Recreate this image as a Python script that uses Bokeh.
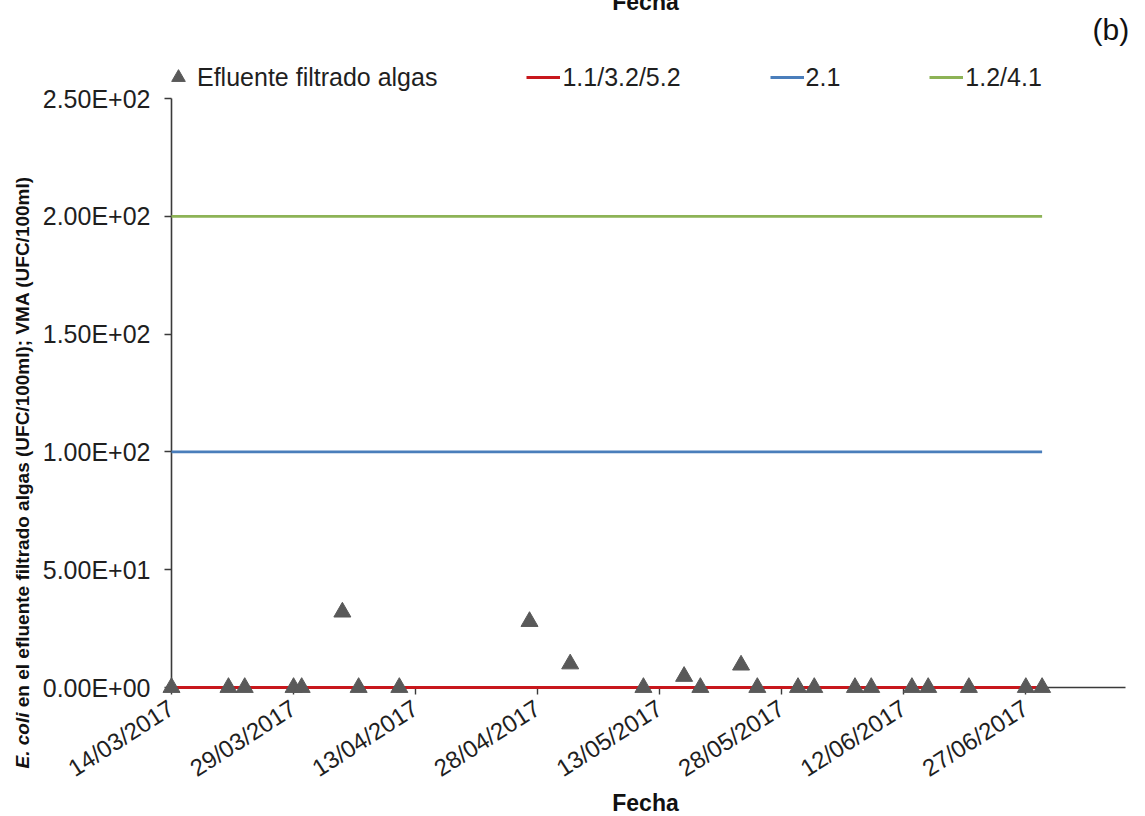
import pandas as pd
from bokeh.plotting import figure
from bokeh.core.properties import value
from bokeh.models import (FixedTicker, DatetimeTickFormatter, Legend, LegendItem, Range1d)
from bokeh.embed import file_html
from bokeh.resources import INLINE

# ---------------- data ----------------
sample_dates = ["2017-03-14", "2017-03-21", "2017-03-23", "2017-03-29", "2017-03-30",
                "2017-04-04", "2017-04-06", "2017-04-11", "2017-04-27", "2017-05-02",
                "2017-05-11", "2017-05-16", "2017-05-18", "2017-05-23", "2017-05-25",
                "2017-05-30", "2017-06-01", "2017-06-06", "2017-06-08", "2017-06-13",
                "2017-06-15", "2017-06-20", "2017-06-27", "2017-06-29"]
ecoli_efluente = [0, 0, 0, 0, 0,
                  32, 0, 0, 28, 10,
                  0, 4.7, 0, 9.5, 0,
                  0, 0, 0, 0, 0,
                  0, 0, 0, 0]
vma_names = ["1.1/3.2/5.2", "2.1", "1.2/4.1"]
vma_values = [0.0, 100.0, 200.0]
vma_colors = ["#C8171C", "#4A7EBB", "#8DB356"]
points_name = "Efluente filtrado algas"

x_tick_dates = ["2017-03-14", "2017-03-29", "2017-04-13", "2017-04-28",
                "2017-05-13", "2017-05-28", "2017-06-12", "2017-06-27"]
x_axis_dates = ["2017-03-14T00:00", "2017-07-09T06:00"]
y_ticks = [0, 50, 100, 150, 200, 250]
y_tick_labels = ["0.00E+00", "5.00E+01", "1.00E+02", "1.50E+02", "2.00E+02", "2.50E+02"]

x_axis_title = "Fecha"
y_title_italic = "E. coli"
y_title_rest = "en el efluente filtrado algas (UFC/100ml); VMA (UFC/100ml)"
panel_tag = "(b)"

FONT = "Liberation Sans"
TXT = "#1f1f1f"
AX = "#3a3a3a"

# ---------------- layout (canvas pixels) ----------------
W, H = 1145, 816
AXL, AXR, AXT, AXB = 171, 1125, 98, 687   # where the axes sit
FT = 40                                   # frame extends up to hold the legend

dates = pd.to_datetime(sample_dates)
ax0, ax1 = [pd.Timestamp(s) for s in x_axis_dates]
units_per_px = (y_ticks[-1] - y_ticks[0]) / (AXB - AXT)
y_end = y_ticks[-1] + units_per_px * (AXT - FT)

p = figure(width=W, height=H, output_backend="svg", toolbar_location=None,
           x_axis_type="datetime",
           x_range=Range1d(ax0, ax1), y_range=Range1d(y_ticks[0], y_end),
           min_border_left=AXL, min_border_right=W - AXR, min_border_top=FT,
           min_border_bottom=H - AXB)
# pixel-like ranges, used only to place the free texts that sit outside the frame
p.extra_x_ranges = {"px": Range1d(AXL, AXR)}
p.extra_y_ranges = {"px": Range1d(-AXB, -FT)}
p.outline_line_color = None
p.xgrid.visible = False
p.ygrid.visible = False
p.background_fill_color = "white"
p.border_fill_color = "white"

# reference (VMA) lines across the sampled period
renderers = []
for name, val, col in zip(vma_names, vma_values, vma_colors):
    r = p.line(x=[dates[0], dates[-1]], y=[val, val], line_color=col,
               line_width=2.8, level="overlay")
    renderers.append((name, r))

pts = p.scatter(x=dates, y=ecoli_efluente, marker="triangle", size=17,
                fill_color="#595959", line_color="#595959", level="overlay")

# ---------------- axes ----------------
tick_ms = [float(t.value // 10**6) for t in pd.to_datetime(x_tick_dates)]
p.xaxis.ticker = FixedTicker(ticks=tick_ms)
fmt = "%d/%m/%Y"
p.xaxis.formatter = DatetimeTickFormatter(milliseconds=fmt, seconds=fmt, minsec=fmt,
                                          minutes=fmt, hourmin=fmt, hours=fmt,
                                          days=fmt, months=fmt, years=fmt)
p.xaxis.major_label_orientation = 0.57
p.xaxis.minor_tick_line_color = None
p.xaxis.major_tick_in = 0
p.xaxis.major_tick_out = 7

p.yaxis.ticker = FixedTicker(ticks=y_ticks)
p.yaxis.major_label_overrides = dict(zip(y_ticks, y_tick_labels))
p.yaxis.bounds = (y_ticks[0], y_ticks[-1])
p.yaxis.minor_tick_line_color = None
p.yaxis.major_tick_in = 0
p.yaxis.major_tick_out = 7
p.yaxis.major_label_standoff = 14

for ax in (p.xaxis, p.yaxis):
    ax.axis_line_color = AX
    ax.axis_line_width = 1.6
    ax.major_tick_line_color = AX
    ax.major_tick_line_width = 1.4
    ax.major_label_text_font = FONT
    ax.major_label_text_color = TXT
p.xaxis.major_label_text_font_size = "24px"
p.yaxis.major_label_text_font_size = "25px"
p.xaxis.major_label_standoff = 11

# ---------------- free texts outside the frame ----------------
ytitle_size = 19
ytitle_start = 768
common = dict(x_range_name="px", y_range_name="px", level="overlay",
              text_font=value(FONT), text_color="#111111")
p.text(x=[22], y=[-ytitle_start], text=[y_title_italic], angle=1.5708,
       text_font_style="bold italic", text_font_size=f"{ytitle_size}px",
       text_align="left", text_baseline="middle", **common)
p.text(x=[22], y=[-ytitle_start + 3.224 * ytitle_size], text=[y_title_rest],
       angle=1.5708, text_font_style="bold", text_font_size=f"{ytitle_size}px",
       text_align="left", text_baseline="middle", **common)
# x-axis title, centred under the plotting area
p.text(x=[645], y=[-802], text=[x_axis_title], text_font_style="bold",
       text_font_size="23px", text_align="center", text_baseline="middle", **common)
p.text(x=[1092], y=[-29], text=[panel_tag], text_font_size="30px",
       text_align="left", text_baseline="middle", **common)
# title of the panel above, cut by the top edge
p.text(x=[645], y=[-14], text=[x_axis_title], text_font_style="bold",
       text_font_size="23px", text_align="center", text_baseline="bottom", **common)

# ---------------- legend (inside the frame's top strip) ----------------
items = [LegendItem(label=points_name, renderers=[pts])]
items += [LegendItem(label=n, renderers=[r]) for n, r in renderers]
legend = Legend(items=items, orientation="horizontal", location=(-10, AXB - 95),
                glyph_width=34, glyph_height=36, label_standoff=2, spacing=89,
                padding=0, margin=0, border_line_color=None,
                background_fill_alpha=0, label_text_font=FONT,
                label_text_font_size="25px", label_text_color=TXT,
                label_text_baseline="middle")
p.add_layout(legend, "center")

open("out.html", "w").write(file_html(p, INLINE))
